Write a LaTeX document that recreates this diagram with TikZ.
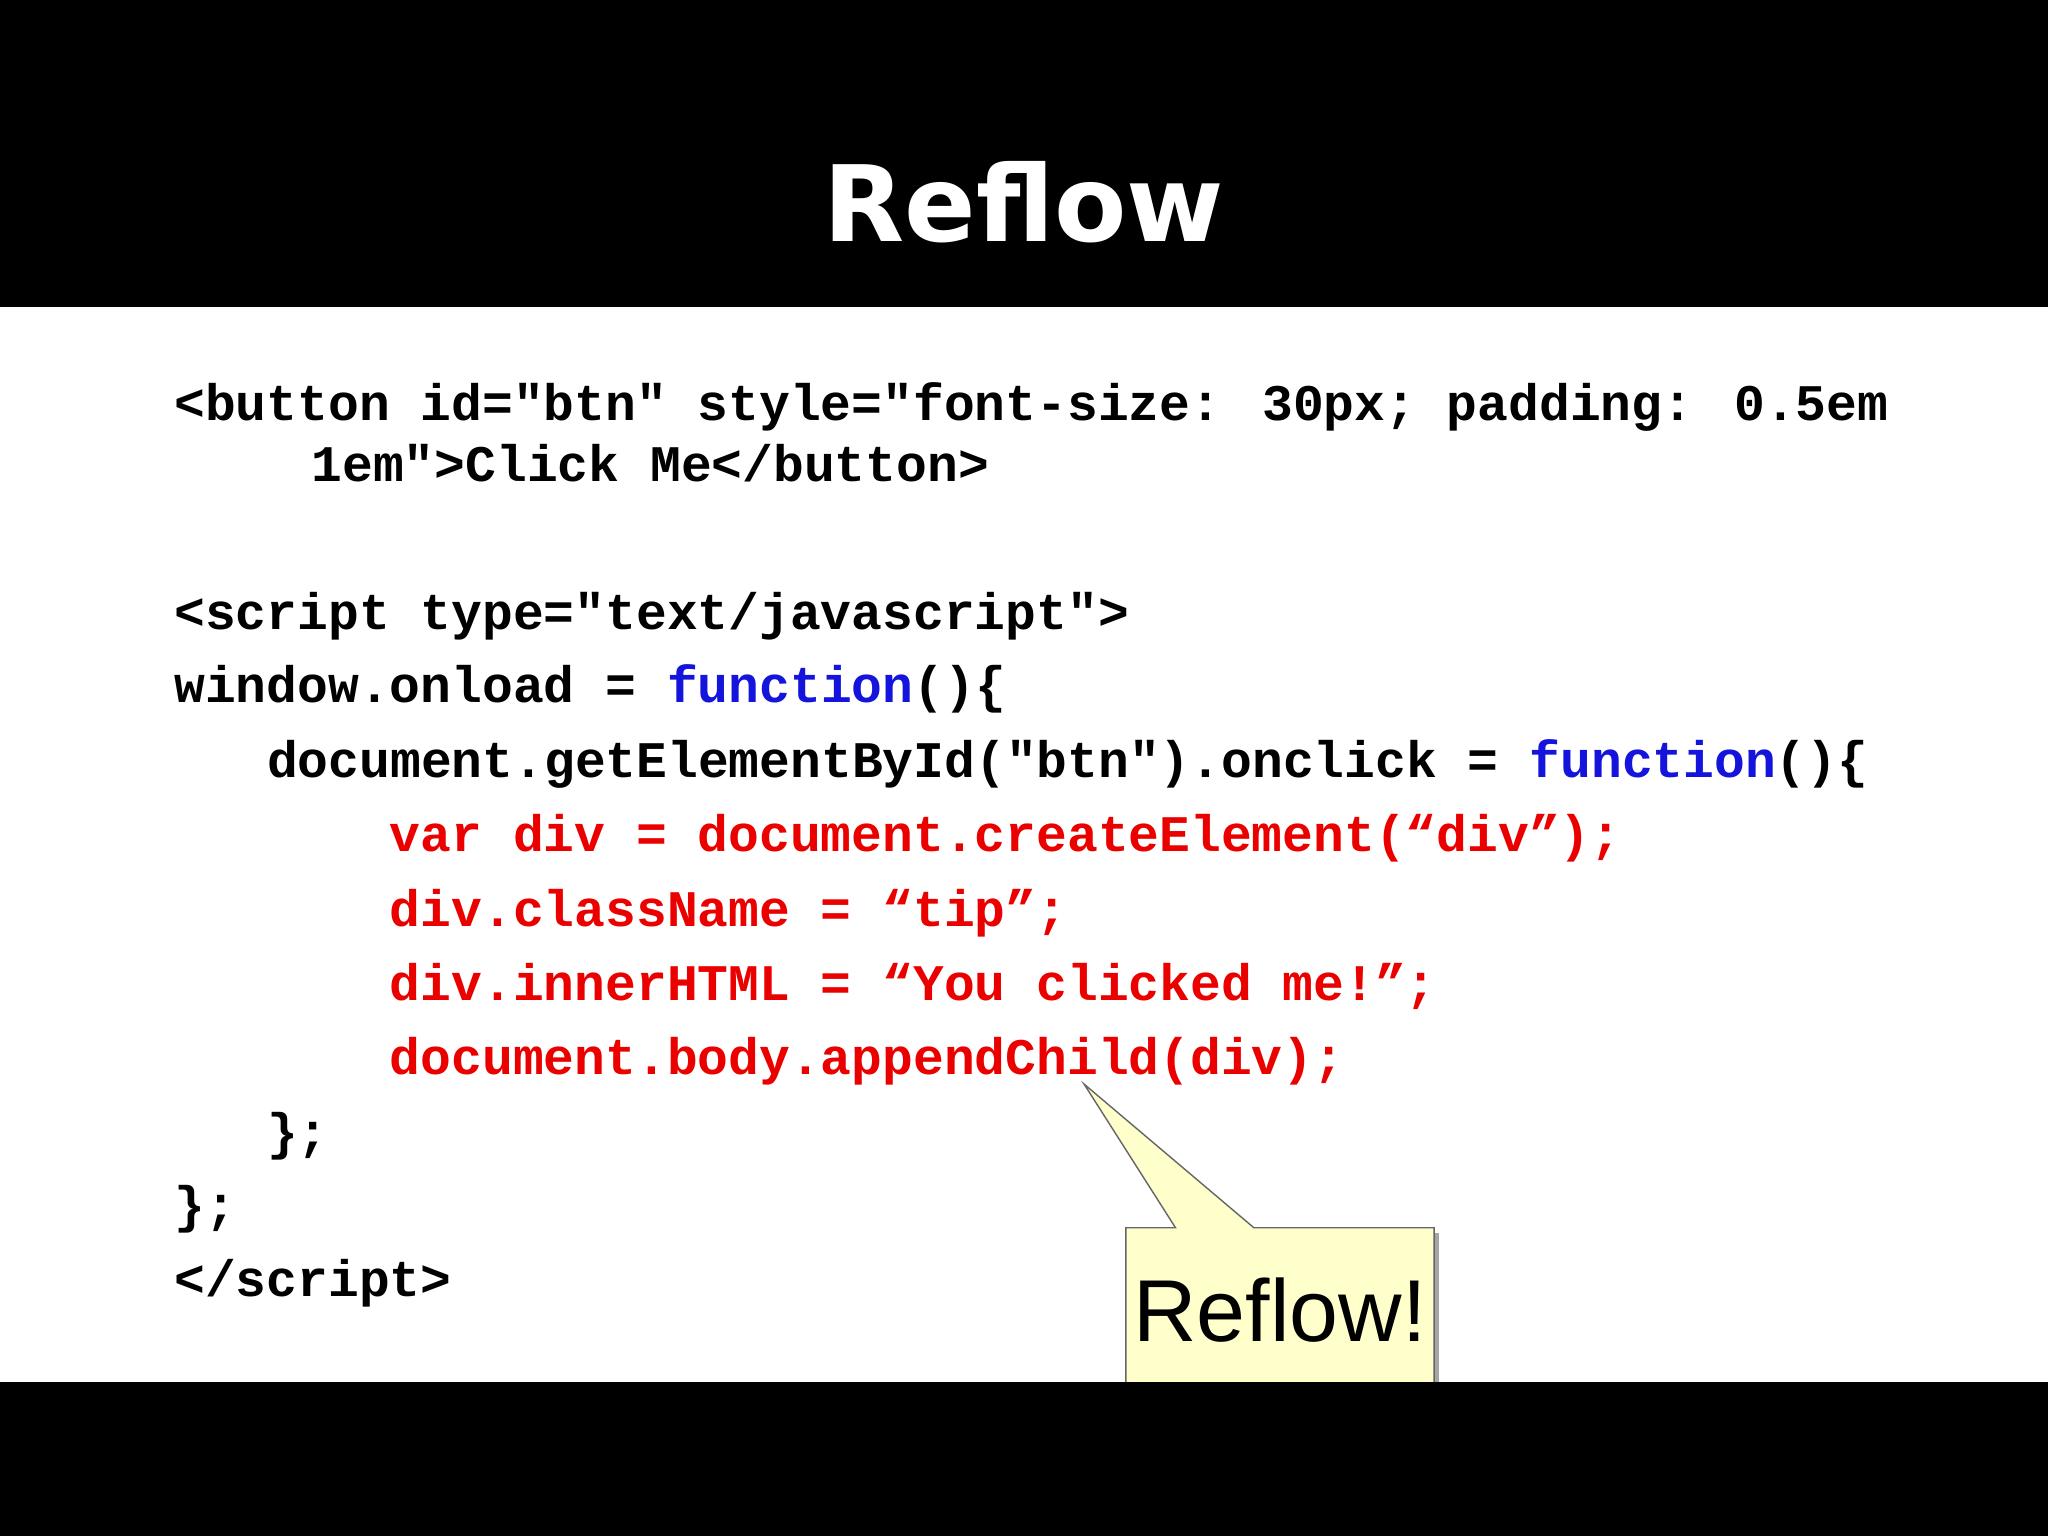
\documentclass[tikz,border=0pt]{standalone}
\usepackage{fontspec}
\setmainfont{DejaVu Sans}
\newfontfamily\codefont{Liberation Mono}
\newfontfamily\callfont{Liberation Sans}
\definecolor{kw}{RGB}{20,20,220}
\definecolor{rd}{RGB}{235,0,0}
\definecolor{tipbg}{RGB}{255,255,204}
\begin{document}
\begin{tikzpicture}[x=0.013061cm,y=-0.013061cm,
  code/.style={anchor=base west,inner sep=0pt,font=\codefont\bfseries\fontsize{14.6pt}{16pt}\selectfont},
  redcode/.style={code,text=rd}]
\useasboundingbox (0,0) rectangle (1568,1176);
\fill[black] (0,0) rectangle (1568,235);
\fill[white] (0,235) rectangle (1568,1058);
\fill[black] (0,1058) rectangle (1568,1176);
\node[text=white,font=\bfseries\fontsize{30pt}{34pt}\selectfont] (title) at (784,155) {Reflow};
\node[code] (l1) at (133,322) {<button id="btn" style="font-size: 30px; padding: 0.5em};
\node[code] (l2) at (238,369) {1em">Click Me</button>};
\node[code] (l3) at (133,482) {<script type="text/javascript">};
\node[code] (l4) at (133,538) {window.onload = \textcolor{kw}{function}()\{};
\node[code] (l5) at (204,595) {document.getElementById("btn").onclick = \textcolor{kw}{function}()\{};
\node[redcode] (l6) at (298,652) {var div = document.createElement(“div”);};
\node[redcode] (l7) at (298,709) {div.className = “tip”;};
\node[redcode] (l8) at (298,766) {div.innerHTML = “You clicked me!”;};
\node[redcode] (l9) at (298,823) {document.body.appendChild(div);};
\node[code] (l10) at (204,880) {\};};
\node[code] (l11) at (133,936) {\};};
\node[code] (l12) at (133,993) {</script>};
% callout
\coordinate (tip) at (830,830);
\fill[gray!70] (866,944) rectangle (1102,1058);
\draw[black!60,fill=tipbg] (862,1058) -- (862,940) -- (900,940) -- (tip) -- (960,940) -- (1098,940) -- (1098,1058);
\node[font=\callfont\fontsize{25pt}{28pt}\selectfont] (call) at (980,1003) {Reflow!};
\fill[black] (0,1058) rectangle (1568,1176);
\end{tikzpicture}
\end{document}
